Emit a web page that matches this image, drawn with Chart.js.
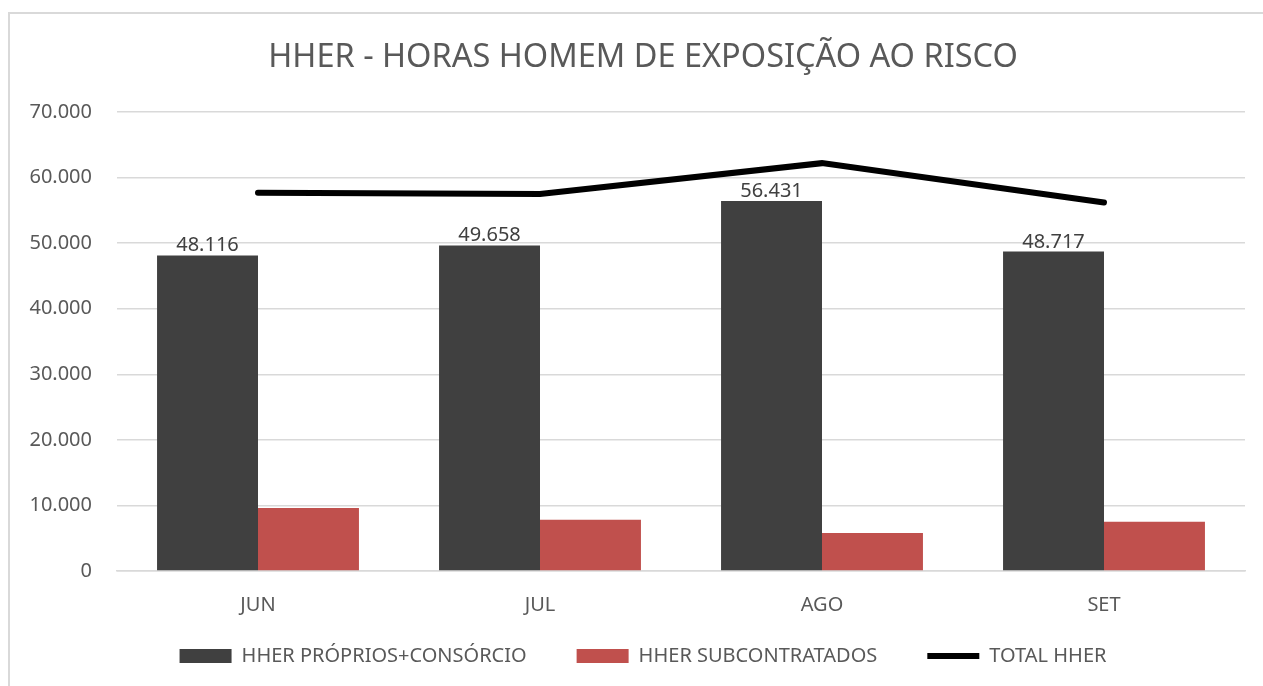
<!DOCTYPE html>
<html>
<head>
<meta charset="utf-8">
<script src="https://cdn.jsdelivr.net/npm/chart.js@4"></script>
<style>
  body { margin: 0; background: #fff; overflow: hidden; }
  #frame {
    position: absolute; left: 8px; top: 12px;
    width: 1270px; height: 690px;
    border-left: 2px solid #d9d9d9; border-top: 2px solid #d9d9d9;
  }
  #dataChart { display: block; }
</style>
</head>
<body>
<div id="frame"><canvas id="dataChart" width="1253" height="672"></canvas></div>
<script>
// meses e valores
let months = ['JUN', 'JUL', 'AGO', 'SET'];
let proprios = [48116, 49658, 56431, 48717];
let subcontratados = [9600, 7800, 5800, 7500];
let totalHher = [57700, 57500, 62200, 56200];
let yTicks = [0, 10000, 20000, 30000, 40000, 50000, 60000, 70000];

// formata 48116 -> 48.116
function fmt(v) {
    return String(Math.round(v)).replace(/\B(?=(\d{3})+(?!\d))/g, '.');
}

// rótulos em cima das barras escuras
let barLabels = {
    id: 'barLabels',
    afterDatasetsDraw(chart) {
        let ctx = chart.ctx;
        let meta = chart.getDatasetMeta(1);
        ctx.save();
        ctx.font = '20px "Noto Sans"';
        ctx.fillStyle = '#404040';
        ctx.textAlign = 'center';
        ctx.textBaseline = 'alphabetic';
        meta.data.forEach((bar, i) => {
            ctx.fillText(fmt(proprios[i]), bar.x, bar.y - 4);
        });
        ctx.restore();
    }
};

// ajustes de layout: legenda mais perto do eixo, e eixo y sem cortar os rótulos
let layoutFix = {
    id: 'layoutFix',
    afterLayout(chart) {
        chart.legend.top -= 21;
        chart.legend.bottom -= 21;
        chart.scales.y.left = 0;
    }
};

let ctx = document.getElementById('dataChart').getContext('2d');

let myChart = new Chart(ctx, {
    type: 'bar',
    data: {
        labels: months,
        datasets: [{
            type: 'line',
            label: 'TOTAL HHER',
            data: totalHher,
            borderColor: '#000000',
            backgroundColor: '#000000',
            borderWidth: 6,
            borderCapStyle: 'round',
            pointRadius: 0,
            pointStyle: 'line',
            tension: 0,
            order: 0
        }, {
            label: 'HHER PRÓPRIOS+CONSÓRCIO',
            data: proprios,
            backgroundColor: '#404040',
            pointStyle: 'rect',
            order: 1
        }, {
            label: 'HHER SUBCONTRATADOS',
            data: subcontratados,
            backgroundColor: '#C0504D',
            pointStyle: 'rect',
            order: 1
        }]
    },
    options: {
        responsive: false,
        animation: false,
        categoryPercentage: 0.716,
        barPercentage: 1,
        layout: { padding: { left: 31, right: 18, top: 0, bottom: -11 } },
        scales: {
            x: {
                grid: { display: false },
                border: { color: '#d9d9d9', width: 1.5 },
                ticks: { color: '#595959', font: { family: 'Noto Sans', size: 20 }, padding: 14 },
                afterFit: function(scale) { scale.height = 46; }
            },
            y: {
                min: 0,
                max: 70000,
                afterBuildTicks: function(scale) { scale.ticks = yTicks.map(v => ({ value: v })); },
                grid: { color: '#d9d9d9', lineWidth: 1.5, drawTicks: false },
                border: { display: false },
                ticks: {
                    color: '#595959',
                    font: { family: 'Noto Sans', size: 20 },
                    padding: 25,
                    callback: function(v) { return fmt(v); }
                },
                afterFit: function(scale) { scale.width = 76; }
            }
        },
        plugins: {
            title: {
                display: true,
                text: 'HHER - HORAS HOMEM DE EXPOSIÇÃO AO RISCO',
                color: '#595959',
                font: { family: 'Noto Sans', size: 32.5, weight: 'normal' },
                padding: { top: 24, bottom: 35 }
            },
            legend: {
                position: 'bottom',
                labels: {
                    usePointStyle: true,
                    pointStyleWidth: 52,
                    boxHeight: 14,
                    padding: 50,
                    color: '#595959',
                    font: { family: 'Noto Sans', size: 20 },
                    sort: function(a, b) {
                        let order = [1, 2, 0];
                        return order.indexOf(a.datasetIndex) - order.indexOf(b.datasetIndex);
                    }
                }
            },
            tooltip: { enabled: false }
        }
    },
    plugins: [barLabels, layoutFix]
});
</script>
</body>
</html>
